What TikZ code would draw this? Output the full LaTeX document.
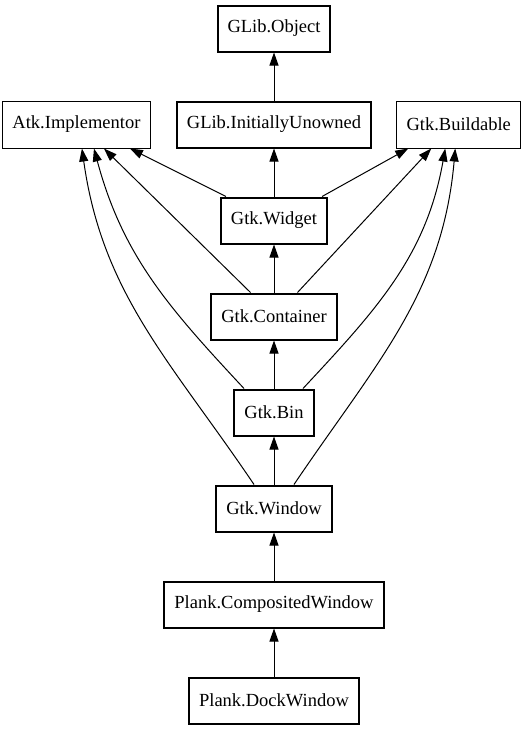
\documentclass[tikz,border=0pt]{standalone}
\usepackage{fontspec}
\setmainfont{Liberation Serif}
\usepackage{tikz}
\usetikzlibrary{arrows.meta}
\usetikzlibrary{positioning}
\tikzstyle{iface} = [rectangle, draw, line width=1pt, minimum height=47pt,
    inner xsep=10pt, font=\fontsize{18.5}{20}\selectfont]
\tikzstyle{klass} = [iface, line width=2pt, minimum height=46pt]
\tikzstyle{line} = [draw, line width=1pt, -{Triangle[length=13pt,width=9pt]}]

\begin{document}
\begin{tikzpicture}[x=1pt, y=1pt, node distance=48pt]
  \useasboundingbox (0,0) rectangle (523,-731);
  % Place nodes
  \node [klass] (object) at (274,-28.5) {GLib.Object};
  \node [klass, below=of object] (unowned) {GLib.InitiallyUnowned};
  \node [iface, left=25pt of unowned] (atk) {Atk.Implementor};
  \node [iface, right=24pt of unowned] (buildable) {Gtk.Buildable};
  \node [klass, below=of unowned] (widget) {Gtk.Widget};
  \node [klass, below=of widget] (container) {Gtk.Container};
  \node [klass, below=of container] (bin) {Gtk.Bin};
  \node [klass, below=of bin] (window) {Gtk.Window};
  \node [klass, below=of window] (composited) {Plank.CompositedWindow};
  \node [klass, below=of composited] (dock) {Plank.DockWindow};

  % Draw edges
  \path [line] (unowned) -- (object);
  \path [line] (widget) -- (unowned);
  \path [line] ([xshift=6pt]widget.north west) -- ([xshift=53.5pt]atk.south);
  \path [line] ([xshift=-6pt]widget.north east) -- ([xshift=-50.5pt]buildable.south);
  \path [line] (container) -- (widget);
  \path [line] ([xshift=-23.5pt]container.north) -- ([xshift=27.5pt]atk.south);
  \path [line] ([xshift=23.5pt]container.north) -- ([xshift=-27.5pt]buildable.south);
  \path [line] (bin) -- (container);
  % curved ones go round the column
  \path [line] ([xshift=-30pt]bin.north) to [out=133, in=-75] ([xshift=17.5pt]atk.south);
  \path [line] ([xshift=29pt]bin.north) to [out=47, in=-100] ([xshift=-13.5pt]buildable.south);
  \path [line] (window) -- (bin);
  \path [line] ([xshift=-20pt]window.north) to [out=124, in=-82] ([xshift=5.5pt]atk.south);
  \path [line] ([xshift=20pt]window.north) to [out=56, in=-95] ([xshift=-3.5pt]buildable.south);
  \path [line] (composited) -- (window);
  \path [line] (dock) -- (composited);
\end{tikzpicture}
\end{document}
